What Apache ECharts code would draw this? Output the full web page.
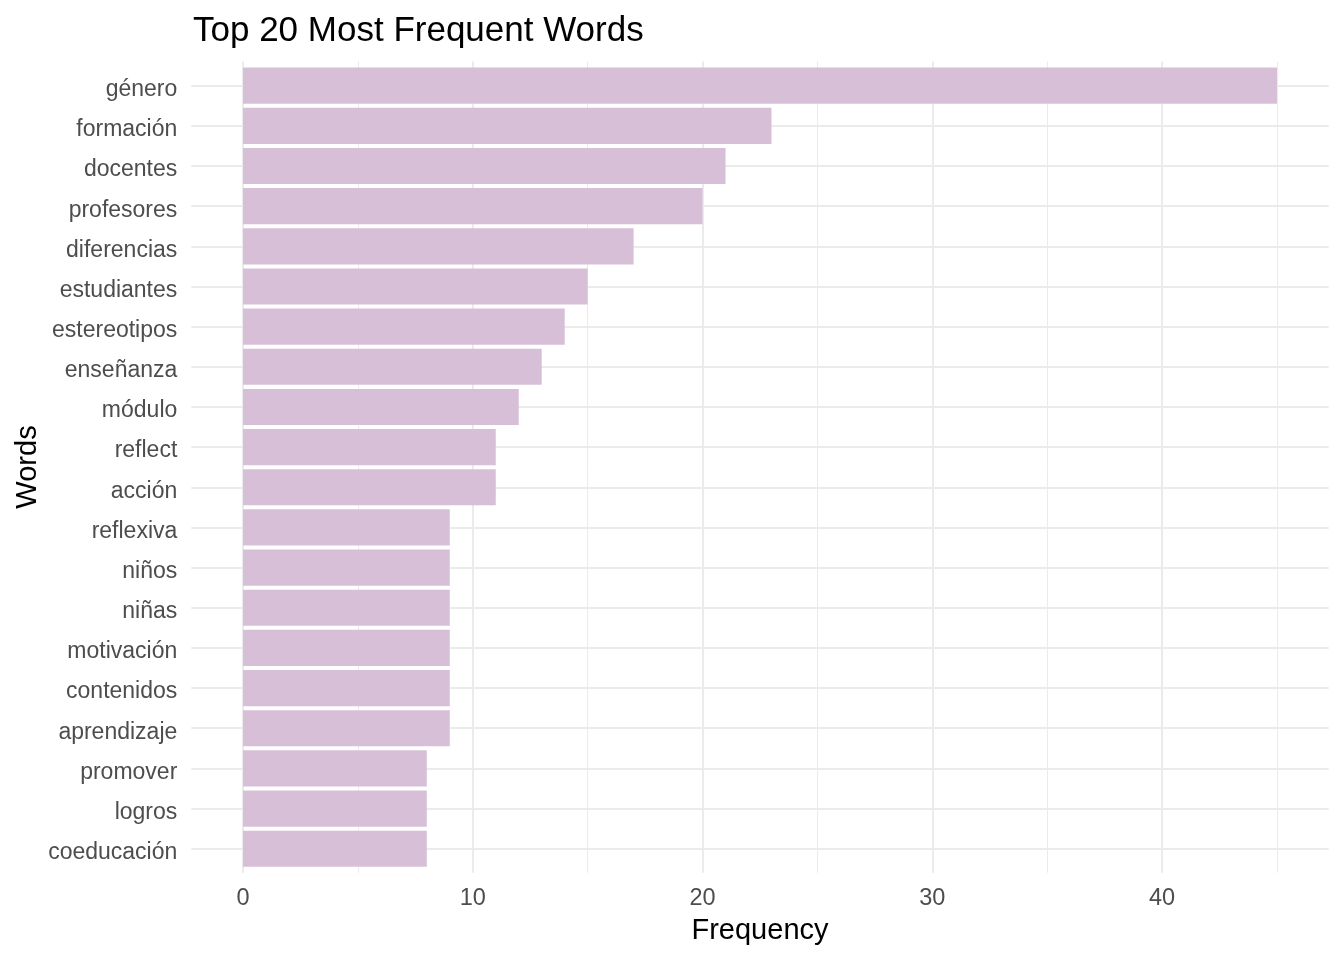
<!DOCTYPE html>
<html>
<head>
<meta charset="utf-8">
<script src="https://cdn.jsdelivr.net/npm/echarts@6/dist/echarts.min.js"></script>
<style>
html,body{margin:0;padding:0;background:#fff;}
#chart{width:1344px;height:960px;}
</style>
</head>
<body>
<div id="chart"></div>
<script>
const words = ['género','formación','docentes','profesores','diferencias','estudiantes','estereotipos','enseñanza','módulo','reflect','acción','reflexiva','niños','niñas','motivación','contenidos','aprendizaje','promover','logros','coeducación'];
const frequency = [45,23,21,20,17,15,14,13,12,11,11,9,9,9,9,9,9,8,8,8];
const xMajorTicks = [0,10,20,30,40];
const xMinorTicks = [5,15,25,35,45];
const titleText = 'Top 20 Most Frequent Words';
const xTitle = 'Frequency';
const yTitle = 'Words';

const FONT = '"Liberation Sans", Arial, sans-serif';
const GRID_COLOR = '#EBEBEB';
const xMin = -2.25, xMax = 47.25;
const n = words.length;
const rowPositions = words.map((w, i) => i + 1);

const chart = echarts.init(document.getElementById('chart'), null, {renderer:'canvas'});
const option = {
  backgroundColor: '#ffffff',
  animation: false,
  textStyle: {fontFamily: FONT},
  title: {
    text: titleText, left: 188, top: 9,
    textStyle: {fontFamily: FONT, fontSize: 35, fontWeight: 'normal', color: '#000'}
  },
  grid: [
    {left: 191.3, right: 15.3, top: 61.6, bottom: 87.2, containLabel: false},
    {left: 191.3, right: 15.3, top: 65.6, bottom: 91.2, containLabel: false}
  ],
  xAxis: [
    {type:'value', gridIndex:0, min:xMin, max:xMax,
     axisLine:{show:false},
     axisTick:{show:false, customValues:xMajorTicks},
     axisLabel:{show:true, margin:14, color:'#4D4D4D', fontSize:23.5, fontFamily:FONT, customValues:xMajorTicks},
     splitLine:{show:true, lineStyle:{color:GRID_COLOR, width:2}}},
    {type:'value', gridIndex:0, min:xMin, max:xMax,
     axisLine:{show:false},
     axisTick:{show:false, customValues:xMinorTicks},
     axisLabel:{show:false, customValues:xMinorTicks},
     splitLine:{show:true, lineStyle:{color:GRID_COLOR, width:1}}},
    {type:'value', gridIndex:1, min:xMin, max:xMax, show:false,
     splitLine:{show:false}}
  ],
  yAxis: [
    {type:'value', gridIndex:0, min:0.4, max:n+0.6, inverse:true,
     axisLine:{show:false},
     axisTick:{show:false, customValues:rowPositions},
     axisLabel:{show:false, customValues:rowPositions},
     splitLine:{show:true, lineStyle:{color:GRID_COLOR, width:2}}},
    {type:'category', gridIndex:1, data:words, inverse:true,
     axisLine:{show:false}, axisTick:{show:false}, splitLine:{show:false},
     axisLabel:{margin:14, color:'#4D4D4D', fontSize:23, fontFamily:FONT, verticalAlign:'top', lineHeight:8}}
  ],
  series: [
    {type:'bar', xAxisIndex:2, yAxisIndex:1, data:frequency, barWidth:'90%',
     itemStyle:{color:'#D8BFD8'}, silent:true}
  ],
  graphic: [
    {type:'text', x:760, y:931, style:{text:xTitle, fontFamily:FONT, fontSize:29, fill:'#000', textAlign:'center', textVerticalAlign:'middle'}},
    {type:'text', x:27.5, y:467, rotation:Math.PI/2, style:{text:yTitle, fontFamily:FONT, fontSize:29, fill:'#000', textAlign:'center', textVerticalAlign:'middle'}}
  ]
};
chart.setOption(option);
</script>
</body>
</html>
